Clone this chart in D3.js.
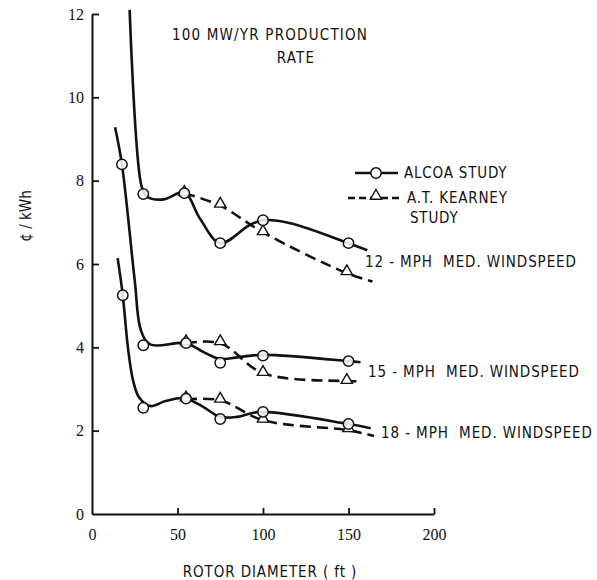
<!DOCTYPE html>
<html>
<head>
<meta charset="utf-8">
<script src="https://cdn.jsdelivr.net/npm/d3@7"></script>
<style>
  body { margin: 0; background: #fff; }
  text { font-family: "Liberation Sans Narrow", "DejaVu Sans Condensed", sans-serif; fill: #111; }
</style>
</head>
<body>
<svg width="597" height="580"></svg>
<script>
// curves (x = rotor diameter ft, y = cents/kWh)
var alcoa12 = [[22, 12.1], [28.8, 7.9], [32, 7.62], [42, 7.55], [54, 7.72], [63, 7.1], [75, 6.5], [92, 6.93], [100, 7.05], [116, 6.98], [150, 6.5], [161, 6.33]];
var alcoa15 = [[13.5, 9.28], [17.5, 8.39], [25, 5.6], [28.6, 4.41], [34, 4.07], [55, 4.1], [65, 3.89], [75, 3.72], [86.5, 3.77], [100, 3.82], [150, 3.67], [157, 3.64]];
var alcoa18 = [[15, 6.14], [18, 5.25], [21, 4.0], [24, 3.21], [27.5, 2.8], [34, 2.59], [43, 2.71], [54, 2.78], [65, 2.57], [75, 2.33], [85, 2.33], [98, 2.45], [150, 2.16], [163, 2.06]];
var kearney12 = [[54, 7.7], [75, 7.4], [100, 6.76], [149, 5.78], [164, 5.58]];
var kearney15 = [[55, 4.1], [75, 4.1], [100, 3.38], [149, 3.19], [158, 3.19]];
var kearney18 = [[55, 2.75], [75, 2.73], [100, 2.25], [150, 2.01], [165, 1.87]];

// study points (markers)
var alcoaPts12 = [[30, 7.68], [54, 7.7], [75, 6.5], [100, 7.05], [150, 6.5]];
var alcoaPts15 = [[17.5, 8.39], [30, 4.05], [55, 4.1], [75, 3.63], [100, 3.8], [150, 3.67]];
var alcoaPts18 = [[18, 5.25], [30, 2.55], [55, 2.77], [75, 2.28], [100, 2.45], [150, 2.16]];
var kearneyPts12 = [[54, 7.7], [75, 7.42], [100, 6.76], [149, 5.8]];
var kearneyPts15 = [[55, 4.12], [75, 4.12], [100, 3.38], [149, 3.19]];
var kearneyPts18 = [[55, 2.77], [75, 2.74], [100, 2.26], [150, 2.03]];

var xTicks = [0, 50, 100, 150, 200];
var yTicks = [0, 2, 4, 6, 8, 10, 12];
var labels = ["12 - MPH  MED. WINDSPEED", "15 - MPH  MED. WINDSPEED", "18 - MPH  MED. WINDSPEED"];

var svg = d3.select("svg");

var x = d3.scaleLinear().domain([0, 200]).range([92, 434]);
var y = d3.scaleLinear().domain([0, 12]).range([514, 14]);

// axes
var xAxis = svg.append("g")
  .attr("transform", "translate(0," + y(0) + ")")
  .call(d3.axisBottom(x).tickValues(xTicks).tickSizeInner(-6).tickSizeOuter(0).tickPadding(15));
var yAxis = svg.append("g")
  .attr("transform", "translate(" + x(0) + ",0)")
  .call(d3.axisLeft(y).tickValues(yTicks).tickSizeInner(-7).tickSizeOuter(0).tickPadding(8));

[xAxis, yAxis].forEach(function(a) {
  a.select(".domain").attr("stroke", "#111").attr("stroke-width", 2);
  a.selectAll(".tick line").attr("stroke", "#111").attr("stroke-width", 1.8);
  a.selectAll(".tick text").style("font-size", "16px").attr("fill", "#111")
    .style("font-family", "'Liberation Serif', serif");
});
xAxis.selectAll(".tick").filter(function(d) { return d === 0; }).select("line").remove();
yAxis.selectAll(".tick").filter(function(d) { return d === 0; }).select("line").remove();

// axis titles
svg.append("text")
  .attr("x", 270).attr("y", 577)
  .attr("text-anchor", "middle")
  .style("font-size", "15px").style("letter-spacing", "0.9px")
  .text("ROTOR DIAMETER ( ft )");

svg.append("text")
  .attr("transform", "translate(31,216) rotate(-90)")
  .attr("text-anchor", "middle")
  .style("font-size", "15px")
  .text("¢ / kWh");

// title
svg.append("text").attr("x", 270).attr("y", 40).attr("text-anchor", "middle")
  .style("font-size", "15px").style("letter-spacing", "1.2px").text("100 MW/YR PRODUCTION");
svg.append("text").attr("x", 296).attr("y", 63).attr("text-anchor", "middle")
  .style("font-size", "15px").style("letter-spacing", "1.2px").text("RATE");

var line = d3.line()
  .x(function(d) { return x(d[0]); })
  .y(function(d) { return y(d[1]); })
  .curve(d3.curveCatmullRom.alpha(0.5));

var plot = svg.append("g");

[kearney12, kearney15, kearney18].forEach(function(s) {
  plot.append("path").datum(s)
    .attr("d", line)
    .attr("fill", "none")
    .attr("stroke", "#111")
    .attr("stroke-width", 2.6)
    .attr("stroke-dasharray", "11,6");
});

[alcoa12, alcoa15, alcoa18].forEach(function(s) {
  plot.append("path").datum(s)
    .attr("d", line)
    .attr("fill", "none")
    .attr("stroke", "#111")
    .attr("stroke-width", 2.6);
});

var tri = d3.symbol().type(d3.symbolTriangle).size(55);

[kearneyPts12, kearneyPts15, kearneyPts18].forEach(function(s) {
  plot.selectAll(null).data(s).enter().append("path")
    .attr("d", tri)
    .attr("transform", function(d) { return "translate(" + x(d[0]) + "," + (y(d[1]) - 1) + ")"; })
    .attr("fill", "#fff")
    .attr("stroke", "#111")
    .attr("stroke-width", 1.4);
});

[alcoaPts12, alcoaPts15, alcoaPts18].forEach(function(s) {
  plot.selectAll(null).data(s).enter().append("circle")
    .attr("cx", function(d) { return x(d[0]); })
    .attr("cy", function(d) { return y(d[1]); })
    .attr("r", 5.2)
    .attr("fill", "#fff")
    .attr("fill-opacity", 0.85)
    .attr("stroke", "#111")
    .attr("stroke-width", 1.5);
});

// series labels
var labelPos = [[365, 267], [368, 377], [381, 438]];
labels.forEach(function(t, i) {
  svg.append("text")
    .attr("x", labelPos[i][0]).attr("y", labelPos[i][1])
    .style("font-size", "15px").style("letter-spacing", "0.9px")
    .style("white-space", "pre")
    .text(t);
});

// legend
var lg = svg.append("g");
lg.append("line").attr("x1", 355).attr("x2", 398).attr("y1", 173).attr("y2", 173)
  .attr("stroke", "#111").attr("stroke-width", 2.4);
lg.append("circle").attr("cx", 376).attr("cy", 173).attr("r", 5.2)
  .attr("fill", "#fff").attr("stroke", "#111").attr("stroke-width", 1.5);
lg.append("text").attr("x", 404).attr("y", 178).style("font-size", "15px")
  .style("letter-spacing", "0.8px").text("ALCOA STUDY");

lg.append("line").attr("x1", 348).attr("x2", 400).attr("y1", 198).attr("y2", 198)
  .attr("stroke", "#111").attr("stroke-width", 2.4).attr("stroke-dasharray", "7,4");
lg.append("path").attr("d", tri)
  .attr("transform", "translate(376,196)")
  .attr("fill", "#fff").attr("stroke", "#111").attr("stroke-width", 1.4);
lg.append("text").attr("x", 407).attr("y", 203).style("font-size", "15px")
  .style("letter-spacing", "0.8px").text("A.T. KEARNEY");
lg.append("text").attr("x", 410).attr("y", 223).style("font-size", "15px")
  .style("letter-spacing", "0.8px").text("STUDY");
</script>
</body>
</html>
